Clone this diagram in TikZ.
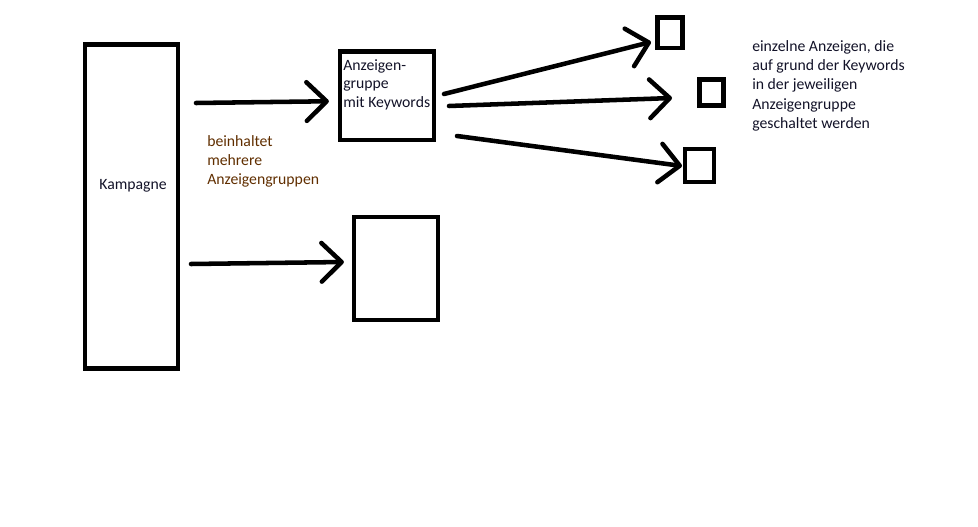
\documentclass[tikz,border=0pt]{standalone}
\usepackage{fontspec}
\setmainfont{Carlito}
\usetikzlibrary{positioning,arrows.meta,calc}
\definecolor{inkbrown}{RGB}{96,46,0}
\definecolor{inkdark}{RGB}{18,18,40}

\begin{document}
\begin{tikzpicture}[
  x=0.75pt,y=-0.75pt,
  >={Straight Barb[round,length=15pt,width=29pt]},
  box/.style={rectangle,draw,line width=3.2pt,inner sep=0pt},
  pen/.style={->,line width=3.4pt,line cap=round},
  lbl/.style={font=\fontsize{11.8pt}{14.5pt}\selectfont,text=inkdark,align=left,inner sep=0pt}
]
% frame of the picture
\useasboundingbox (0,0) rectangle (978,527);

% boxes
\node[box,minimum width=69.75pt,minimum height=243pt] (kamp) at (131.5,206.5) {};
\node[box,minimum width=70.5pt,minimum height=66.4pt] (grp) at (387,95.75) {};
\node[box,minimum width=63pt,minimum height=77.25pt] (grp2) at (396,268.5) {};
\node[box,minimum width=18.75pt,minimum height=22.9pt] (ad1) at (670,32.75) {};
\node[box,minimum width=18pt,minimum height=19.5pt] (ad2) at (711.5,92.5) {};
\node[box,minimum width=21.75pt,minimum height=24.75pt] (ad3) at (699.5,165.5) {};

% texts
\node[lbl] (kampT) at (133,186) {Kampagne};
\node[lbl,anchor=north west,font=\fontsize{11.8pt}{13.9pt}\selectfont] (grpT) at (343,59) {Anzeigen-\\gruppe\\mit Keywords};
\node[lbl,anchor=north west,text=inkbrown] (hint) at (207,135) {beinhaltet\\mehrere\\Anzeigengruppen};
\node[lbl,anchor=north west] (adsT) at (752,40) {einzelne Anzeigen, die\\auf grund der Keywords\\in der jeweiligen\\Anzeigengruppe\\geschaltet werden};

% arrows
\coordinate (s1) at (196,103);
\coordinate (s2) at (191,264);
\coordinate (sa) at (444,94);
\coordinate (sb) at (449,106);
\coordinate (sc) at (457,136);
\coordinate (ta) at (651,42);
\coordinate (tb) at (672,98);
\coordinate (tc) at (682,166);

\draw[pen] (s1) -- ($(grp.west)+(-9,5.5)$);
\draw[pen] (s2) -- ($(grp2.west)+(-8,-6.5)$);
\draw[pen] (sa) -- (ta);
\draw[pen] (sb) -- (tb);
\draw[pen] (sc) -- (tc);
\end{tikzpicture}
\end{document}
